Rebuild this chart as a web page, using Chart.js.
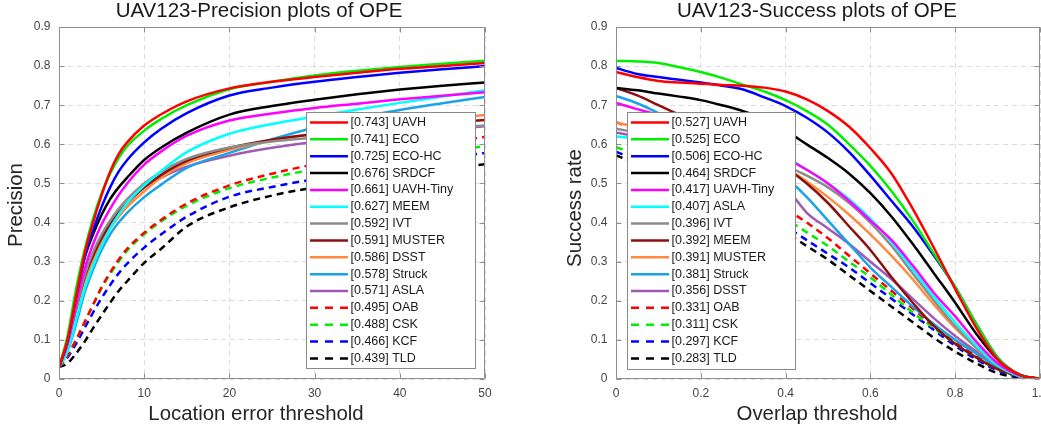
<!DOCTYPE html>
<html><head><meta charset="utf-8">
<script src="https://cdn.jsdelivr.net/npm/chart.js@4.4.0/dist/chart.umd.min.js"></script>
<style>
html,body{margin:0;padding:0;background:#fff;overflow:hidden;width:1041px;height:432px;position:relative;}
canvas{position:absolute;top:0;}
#c1{left:0;}
#c2{left:520px;}
</style></head><body>
<canvas id="c1" width="520" height="432"></canvas>
<canvas id="c2" width="594" height="432"></canvas>
<script>
// ---------------- DATA ----------------
const precThresholds = [0,1,2,3,4,5,6,7,8,10,12,15,20,25,30,35,40,45,50];
const precNames  = ['UAVH','ECO','ECO-HC','SRDCF','UAVH-Tiny','MEEM','IVT','MUSTER','DSST','Struck','ASLA','OAB','CSK','KCF','TLD'];
const precScores = [0.743,0.741,0.725,0.676,0.661,0.627,0.592,0.591,0.586,0.578,0.571,0.495,0.488,0.466,0.439];
const precUAVH   = [0.03,0.10,0.21,0.32,0.40,0.47,0.53,0.575,0.605,0.648,0.677,0.71,0.743,0.76,0.772,0.783,0.793,0.80,0.808];
const precECO    = [0.03,0.11,0.23,0.33,0.41,0.475,0.525,0.565,0.595,0.635,0.665,0.70,0.741,0.76,0.776,0.788,0.798,0.806,0.814];
const precECOHC  = [0.03,0.10,0.21,0.31,0.38,0.44,0.49,0.53,0.56,0.605,0.64,0.68,0.725,0.745,0.76,0.772,0.783,0.792,0.80];
const precSRDCF  = [0.03,0.10,0.21,0.31,0.37,0.42,0.46,0.49,0.515,0.56,0.592,0.63,0.676,0.698,0.714,0.728,0.74,0.75,0.758];
const precTiny   = [0.03,0.09,0.19,0.28,0.345,0.395,0.435,0.47,0.50,0.548,0.582,0.622,0.661,0.679,0.693,0.704,0.715,0.724,0.733];
const precMEEM   = [0.03,0.07,0.15,0.23,0.29,0.34,0.385,0.42,0.45,0.495,0.532,0.58,0.627,0.652,0.671,0.689,0.706,0.722,0.738];
const precIVT    = [0.03,0.09,0.18,0.265,0.325,0.37,0.405,0.435,0.46,0.50,0.53,0.563,0.592,0.607,0.617,0.626,0.634,0.641,0.648];
const precMUSTER = [0.03,0.09,0.18,0.26,0.315,0.36,0.395,0.425,0.45,0.49,0.522,0.558,0.591,0.612,0.626,0.637,0.647,0.655,0.662];
const precDSST   = [0.03,0.09,0.175,0.25,0.305,0.35,0.385,0.415,0.44,0.48,0.515,0.552,0.586,0.61,0.627,0.642,0.655,0.665,0.675];
const precStruck = [0.03,0.07,0.14,0.22,0.28,0.33,0.37,0.40,0.425,0.465,0.497,0.54,0.578,0.613,0.643,0.668,0.688,0.705,0.721];
const precASLA   = [0.03,0.09,0.18,0.26,0.315,0.36,0.395,0.425,0.45,0.49,0.515,0.543,0.571,0.591,0.606,0.618,0.63,0.638,0.646];
const precOAB    = [0.03,0.06,0.10,0.145,0.19,0.235,0.272,0.305,0.333,0.374,0.407,0.449,0.495,0.525,0.549,0.569,0.587,0.603,0.619];
const precCSK    = [0.03,0.06,0.10,0.145,0.19,0.232,0.268,0.30,0.328,0.37,0.403,0.443,0.488,0.515,0.536,0.553,0.568,0.582,0.595];
const precKCF    = [0.03,0.055,0.09,0.13,0.17,0.207,0.24,0.27,0.295,0.336,0.37,0.415,0.466,0.491,0.511,0.529,0.546,0.562,0.578];
const precTLD    = [0.03,0.04,0.065,0.095,0.13,0.163,0.195,0.225,0.25,0.297,0.333,0.39,0.439,0.469,0.49,0.508,0.523,0.537,0.549];

const succThresholds = [0,0.05,0.1,0.15,0.2,0.25,0.3,0.35,0.4,0.45,0.5,0.55,0.6,0.65,0.7,0.75,0.8,0.85,0.9,0.95,1];
const succNames  = ['UAVH','ECO','ECO-HC','SRDCF','UAVH-Tiny','ASLA','IVT','MEEM','MUSTER','Struck','DSST','OAB','CSK','KCF','TLD'];
const succScores = [0.527,0.525,0.506,0.464,0.417,0.407,0.396,0.392,0.391,0.381,0.356,0.331,0.311,0.297,0.283];
const succUAVH   = [0.785,0.772,0.762,0.758,0.755,0.752,0.75,0.745,0.735,0.715,0.685,0.645,0.59,0.525,0.435,0.335,0.23,0.13,0.05,0.012,0];
const succECO    = [0.813,0.812,0.808,0.797,0.785,0.77,0.752,0.735,0.713,0.685,0.65,0.60,0.545,0.48,0.405,0.32,0.235,0.14,0.055,0.012,0];
const succECOHC  = [0.795,0.78,0.772,0.765,0.758,0.75,0.74,0.72,0.698,0.668,0.63,0.58,0.52,0.455,0.39,0.315,0.235,0.14,0.055,0.012,0];
const succSRDCF  = [0.744,0.738,0.73,0.722,0.713,0.70,0.685,0.665,0.635,0.60,0.565,0.525,0.475,0.415,0.345,0.27,0.195,0.115,0.05,0.012,0];
const succTiny   = [0.706,0.69,0.675,0.66,0.645,0.63,0.61,0.59,0.565,0.535,0.50,0.455,0.405,0.355,0.29,0.22,0.16,0.095,0.04,0.01,0];
const succASLA   = [0.62,0.615,0.61,0.605,0.60,0.595,0.59,0.58,0.565,0.535,0.50,0.46,0.41,0.35,0.28,0.21,0.145,0.085,0.035,0.008,0];
const succIVT    = [0.64,0.63,0.62,0.61,0.60,0.59,0.58,0.565,0.545,0.52,0.49,0.45,0.40,0.34,0.27,0.20,0.135,0.08,0.035,0.008,0];
const succMEEM   = [0.744,0.725,0.70,0.675,0.65,0.625,0.60,0.57,0.54,0.50,0.45,0.39,0.33,0.26,0.195,0.135,0.09,0.055,0.025,0.008,0];
const succMUSTER = [0.655,0.645,0.635,0.625,0.615,0.60,0.585,0.565,0.54,0.505,0.465,0.42,0.37,0.315,0.255,0.19,0.13,0.08,0.035,0.008,0];
const succStruck = [0.724,0.705,0.68,0.655,0.63,0.605,0.58,0.55,0.515,0.465,0.405,0.345,0.285,0.235,0.185,0.14,0.10,0.065,0.03,0.008,0];
const succDSST   = [0.63,0.62,0.61,0.595,0.58,0.565,0.545,0.52,0.49,0.425,0.385,0.345,0.30,0.255,0.205,0.155,0.11,0.07,0.03,0.008,0];
const succOAB    = [0.657,0.635,0.61,0.585,0.56,0.53,0.50,0.47,0.435,0.40,0.36,0.315,0.27,0.225,0.18,0.135,0.095,0.06,0.028,0.008,0];
const succCSK    = [0.593,0.575,0.56,0.54,0.52,0.495,0.47,0.44,0.41,0.375,0.34,0.30,0.26,0.215,0.17,0.13,0.09,0.055,0.025,0.008,0];
const succKCF    = [0.581,0.56,0.54,0.52,0.50,0.475,0.45,0.42,0.39,0.355,0.32,0.285,0.245,0.205,0.165,0.125,0.085,0.05,0.022,0.006,0];
const succTLD    = [0.572,0.55,0.53,0.51,0.485,0.46,0.435,0.405,0.375,0.34,0.305,0.265,0.225,0.185,0.145,0.105,0.07,0.04,0.015,0.004,0];

const precTicksX = [0,10,20,30,40,50];
const succTicksX = [0,0.2,0.4,0.6,0.8,1];
const ticksY = [0,0.1,0.2,0.3,0.4,0.5,0.6,0.7,0.8,0.9];

// ---------------- STYLE ----------------
const FONT = '"Liberation Sans", Arial, Helvetica, sans-serif';
const rankColors = ['#ff0000','#00ee00','#0000ff','#000000','#ff00ff','#00ffff','#8c8c8c','#8c1010','#ff8a3d','#1aa3e6','#a05ab4','#ff0000','#00ee00','#0000ff','#000000'];
const rankDashed = [false,false,false,false,false,false,false,false,false,false,false,true,true,true,true];

function makeDatasets(xs, series, names, scores){
  return series.map((ys,i)=>({
    label: '[' + scores[i].toFixed(3) + '] ' + names[i],
    data: xs.map((x,j)=>({x:x, y:ys[j]})),
    borderColor: rankColors[i],
    backgroundColor: rankColors[i],
    borderWidth: 2.5,
    borderDash: rankDashed[i] ? [7,5] : [],
    legendDash: rankDashed[i] ? [8,7] : [],
    pointRadius: 0,
    cubicInterpolationMode: 'monotone',
    fill: false
  }));
}

const framePlugin = {
  id: 'frame',
  afterDatasetsDraw(chart){
    const {ctx, chartArea:a, scales} = chart;
    const L = Math.round(a.left)+0.5, R = Math.round(a.right)-0.5, T = Math.round(a.top)+0.5, B = Math.round(a.bottom)-0.5;
    ctx.save();
    ctx.strokeStyle = '#8f8f8f'; ctx.lineWidth = 1; ctx.setLineDash([]);
    ctx.beginPath();
    ctx.rect(L, T, R-L, B-T);
    scales.x.ticks.forEach(t=>{
      const p = Math.round(scales.x.getPixelForValue(t.value))+0.5;
      ctx.moveTo(p,B); ctx.lineTo(p,B-5);
      ctx.moveTo(p,T); ctx.lineTo(p,T+5);
    });
    scales.y.ticks.forEach(t=>{
      const p = Math.round(scales.y.getPixelForValue(t.value))+0.5;
      ctx.moveTo(L,p); ctx.lineTo(L+5,p);
      ctx.moveTo(R,p); ctx.lineTo(R-5,p);
    });
    ctx.stroke();
    ctx.restore();
  }
};

const legendPlugin = {
  id: 'insideLegend',
  afterDraw(chart, args, opts){
    const {ctx} = chart; const b = opts.box;
    ctx.save();
    ctx.fillStyle = '#ffffff'; ctx.fillRect(b.x, b.y, b.w, b.h);
    ctx.strokeStyle = '#8a8a8a'; ctx.lineWidth = 1; ctx.setLineDash([]);
    ctx.strokeRect(b.x+0.5, b.y+0.5, b.w, b.h);
    ctx.font = '12.5px ' + FONT; ctx.textBaseline = 'middle'; ctx.textAlign = 'left';
    chart.data.datasets.forEach((ds,i)=>{
      const cy = b.y + 10.5 + i*16.85;
      ctx.strokeStyle = ds.borderColor; ctx.lineWidth = ds.borderWidth; ctx.setLineDash(ds.legendDash);
      ctx.beginPath(); ctx.moveTo(b.x+4, cy); ctx.lineTo(b.x+42, cy); ctx.stroke();
      ctx.setLineDash([]);
      ctx.fillStyle = '#1a1a1a';
      ctx.fillText(ds.label, b.x+44.5, cy);
    });
    ctx.restore();
  }
};

// titles and axis titles (text placed as in the original figure)
const textPlugin = {
  id: 'figText',
  afterDraw(chart, args, o){
    const {ctx} = chart;
    ctx.save();
    ctx.textAlign = 'center'; ctx.textBaseline = 'middle';
    ctx.fillStyle = '#1a1a1a';
    ctx.font = '20.5px ' + FONT;
    ctx.fillText(o.title, o.titleX, 11.5);
    ctx.fillStyle = '#262626';
    ctx.font = '20.4px ' + FONT;
    ctx.fillText(o.xTitle, o.xTitleX, 414);
    ctx.translate(o.yTitleX, o.yTitleY);
    ctx.rotate(-Math.PI/2);
    ctx.fillText(o.yTitle, 0, 0);
    ctx.restore();
  }
};

function makeChart(id, datasets, cfg){
  return new Chart(document.getElementById(id), {
    type: 'line',
    data: {datasets: datasets},
    options: {
      responsive: false, animation: false, events: [],
      layout: {padding: {left: 0, right: cfg.padRight, top: 27, bottom: 0}},
      plugins: {
        legend: {display: false}, tooltip: {enabled: false}, title: {display: false},
        insideLegend: {box: cfg.legendBox},
        figText: cfg.text
      },
      scales: {
        x: {
          type: 'linear', min: cfg.xTicks[0], max: cfg.xTicks[cfg.xTicks.length-1],
          afterBuildTicks(s){ s.ticks = cfg.xTicks.map(v=>({value:v})); },
          ticks: {color: '#444', font: {family: FONT, size: 12}, padding: 7, maxRotation: 0, autoSkip: false},
          grid: {color: '#dddddd', drawTicks: false, lineWidth: 1},
          border: {display: false, dash: [5,4]},
          afterFit(s){ s.height = 53; }
        },
        y: {
          type: 'linear', min: 0, max: 0.9,
          afterBuildTicks(s){ s.ticks = ticksY.map(v=>({value:v})); },
          ticks: {color: '#444', font: {family: FONT, size: 12}, padding: 8.5, autoSkip: false},
          grid: {color: '#dddddd', drawTicks: false, lineWidth: 1},
          border: {display: false, dash: [5,4]},
          afterFit(s){ s.width = cfg.yWidth; }
        }
      }
    },
    plugins: [framePlugin, legendPlugin, textPlugin]
  });
}

makeChart('c1',
  makeDatasets(precThresholds,
    [precUAVH,precECO,precECOHC,precSRDCF,precTiny,precMEEM,precIVT,precMUSTER,precDSST,precStruck,precASLA,precOAB,precCSK,precKCF,precTLD],
    precNames, precScores),
  {xTicks: precTicksX, padRight: 35, yWidth: 59,
   legendBox: {x: 306, y: 112, w: 169, h: 256},
   text: {title: 'UAV123-Precision plots of OPE', titleX: 259,
          xTitle: 'Location error threshold', xTitleX: 256,
          yTitle: 'Precision', yTitleX: 16, yTitleY: 205}});

makeChart('c2',
  makeDatasets(succThresholds,
    [succUAVH,succECO,succECOHC,succSRDCF,succTiny,succASLA,succIVT,succMEEM,succMUSTER,succStruck,succDSST,succOAB,succCSK,succKCF,succTLD],
    succNames, succScores),
  {xTicks: succTicksX, padRight: 74, yWidth: 96,
   legendBox: {x: 107, y: 112, w: 168, h: 257},
   text: {title: 'UAV123-Success plots of OPE', titleX: 297,
          xTitle: 'Overlap threshold', xTitleX: 297,
          yTitle: 'Success rate', yTitleX: 55, yTitleY: 208}});
</script>
</body></html>
